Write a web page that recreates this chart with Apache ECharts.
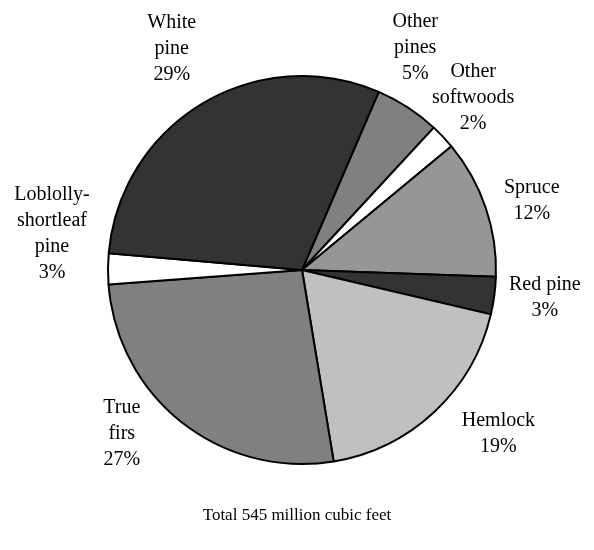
<!DOCTYPE html>
<html>
<head>
<meta charset="utf-8">
<title>Softwood volume by species</title>
<script src="https://cdn.jsdelivr.net/npm/echarts@6/dist/echarts.min.js"></script>
<style>
  html, body {
    margin: 0;
    padding: 0;
    background: #fff;
  }
  #chart {
    width: 594px;
    height: 550px;
  }
</style>
</head>
<body>
<div id="chart"></div>
<script>
// species, clockwise from the top (million cubic feet)
var species = ['Other\npines', 'Other\nsoftwoods', 'Spruce', 'Red pine', 'Hemlock', 'True\nfirs', 'Loblolly-\nshortleaf\npine', 'White\npine']
var volumes = [29.5, 11.5, 63, 17, 102, 144, 14, 164]
// percentages as printed on the chart
var percents = [5, 2, 12, 3, 19, 27, 3, 29]
var totalText = 'Total 545 million cubic feet'

var fills = ['#808080', '#ffffff', '#969696', '#333333', '#c0c0c0', '#808080', '#ffffff', '#333333']
// small hand nudges so the labels sit where the original put them
var labelNudge = [[-22, -14], [-9, -2], [-5, 11], [-3, -5], [27, -17], [-27, -31], [-2, -35], [-3, -8]]

var CX = 302
var CY = 270
var R = 194
var LABEL_R = 248
var START = 66.7

var myChart = echarts.init(document.getElementById('chart'))

var total = volumes.reduce(function (a, b) { return a + b }, 0)
var midAngles = []
var acc = 0
volumes.forEach(function (v) {
  // degrees clockwise from 12 o'clock
  midAngles.push((90 - START) + (acc + v / 2) / total * 360)
  acc += v
})

var serif = '"Liberation Serif", "Times New Roman", serif'

var option = {
  backgroundColor: '#fff',
  animation: false,
  title: {
    text: totalText,
    left: 'center',
    top: 502,
    textStyle: {
      fontFamily: serif,
      fontSize: 17,
      fontWeight: 'normal',
      color: '#000'
    }
  },
  series: [
    {
      type: 'pie',
      center: [CX, CY],
      radius: [0, R],
      startAngle: START,
      clockwise: true,
      silent: true,
      avoidLabelOverlap: false,
      itemStyle: {
        borderColor: '#000',
        borderWidth: 2
      },
      label: {
        show: true,
        position: 'outside',
        fontFamily: serif,
        fontSize: 20,
        lineHeight: 26,
        color: '#000',
        formatter: function (p) {
          return p.name + '\n' + percents[p.dataIndex] + '%'
        }
      },
      labelLine: { show: false },
      labelLayout: function (params) {
        var i = params.dataIndex
        var a = midAngles[i] * Math.PI / 180
        return {
          x: CX + LABEL_R * Math.sin(a) + labelNudge[i][0],
          y: CY - LABEL_R * Math.cos(a) + labelNudge[i][1],
          align: 'center',
          verticalAlign: 'middle'
        }
      },
      data: species.map(function (name, i) {
        return {
          name: name,
          value: volumes[i],
          itemStyle: { color: fills[i] }
        }
      })
    }
  ]
}

myChart.setOption(option)
</script>
</body>
</html>
